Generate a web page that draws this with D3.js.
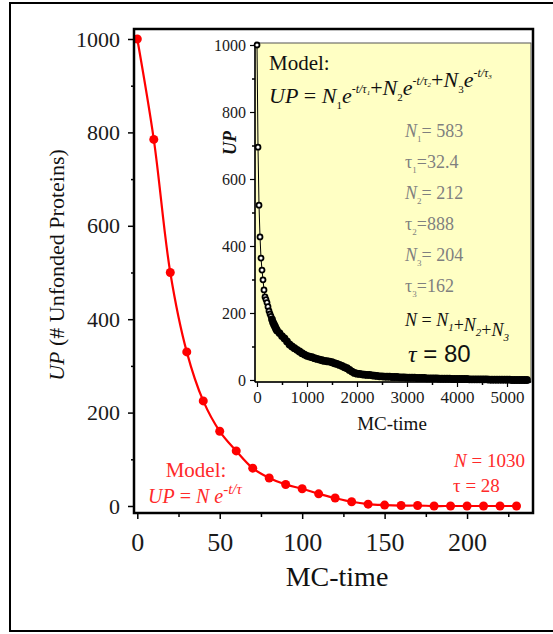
<!DOCTYPE html>
<html>
<head>
<meta charset="utf-8">
<title>Unfolded proteins vs MC-time</title>
<script src="https://d3js.org/d3.v7.min.js"></script>
<style>
  body { margin: 0; background: #fff; }
  svg text { font-family: "Liberation Serif", "Times New Roman", serif; }
</style>
</head>
<body>
<svg id="chart" width="553" height="634"></svg>
<script>
// main panel: red data, sampled every 10 MC steps
var mainTimes = d3.range(0, 240, 10);
var mainUP = [1000, 785, 500, 330, 225, 160, 118, 81, 60, 46, 37, 26,
              17, 9, 4, 2, 1, 1, 0, 0, 0, 0, 0, 0];
var mainXTicks = [0, 50, 100, 150, 200];
var mainXMinor = [25, 75, 125, 175, 225];
var mainYTicks = [0, 200, 400, 600, 800, 1000];
var mainYMinor = [100, 300, 500, 700, 900];

// inset: long run (every 20 steps first, then every 50)
var insetTimes = d3.range(0, 420, 20).concat(d3.range(450, 5450, 50));
var insetUP = [1000, 695, 522, 427, 364, 328, 299, 269, 248, 240, 231, 219, 206, 197, 190, 181, 172, 166, 160, 153, 148,
  140, 131, 124, 115, 106, 100, 95, 90, 85, 80,
  76, 72, 70, 68, 65, 63, 61, 59, 57, 56,
  55, 53, 50, 48, 45, 42, 38, 35, 30, 25,
  21, 19, 18, 17, 16, 15, 15, 14, 13, 12,
  11, 11, 10, 10, 10, 9, 9, 9, 8, 8,
  8, 7, 7, 7, 7, 6, 6, 6, 6, 5,
  5, 5, 5, 5, 4, 4, 4, 4, 4, 3,
  3, 3, 3, 3, 3, 3, 2, 2, 2, 2,
  2, 2, 2, 2, 1, 1, 1, 1, 1, 1,
  1, 1, 1, 0, 0, 0, 0, 0, 0, 0];
var insetXTicks = [0, 1000, 2000, 3000, 4000, 5000];
var insetXMinor = [500, 1500, 2500, 3500, 4500];
var insetYTicks = [0, 200, 400, 600, 800, 1000];
var insetYMinor = [100, 300, 500, 700, 900];

var fitParams = [["N", "1", "583"], ["τ", "1", "32.4"], ["N", "2", "212"],
                 ["τ", "2", "888"], ["N", "3", "204"], ["τ", "3", "162"]];

var RED = "#ff0000";
var svg = d3.select("#chart");
var fmt = d3.format("d");

// outer figure border
svg.append("rect").attr("x", 10).attr("y", 3).attr("width", 560).attr("height", 628)
  .attr("fill", "none").attr("stroke", "#000").attr("stroke-width", 2);

// ---------- main panel ----------
var x = d3.scaleLinear().domain([-2, 240]).range([134, 533]);
var y = d3.scaleLinear().domain([-15, 1021.4]).range([513, 29]);

function styleAxis(g, size) {
  g.select(".domain").remove();
  g.selectAll(".tick line").attr("stroke", "#000").attr("stroke-width", 1.5);
  g.selectAll(".tick text").attr("fill", "#1a1a1a").style("font-size", size + "px")
    .style("font-family", "Liberation Serif, serif");
}

var gx = svg.append("g").attr("transform", "translate(0,513)")
  .call(d3.axisBottom(x).tickValues(mainXTicks).tickFormat(fmt).tickSize(6).tickPadding(14));
styleAxis(gx, 26);
svg.append("g").attr("transform", "translate(0,513)")
  .call(d3.axisBottom(x).tickValues(mainXMinor).tickSize(4).tickFormat(""))
  .call(function (g) { styleAxis(g, 10); });

var gy = svg.append("g").attr("transform", "translate(134,0)")
  .call(d3.axisLeft(y).tickValues(mainYTicks).tickFormat(fmt).tickSize(6).tickPadding(8));
styleAxis(gy, 22);
svg.append("g").attr("transform", "translate(134,0)")
  .call(d3.axisLeft(y).tickValues(mainYMinor).tickSize(3).tickFormat(""))
  .call(function (g) { styleAxis(g, 10); });

svg.append("defs").append("clipPath").attr("id", "mainClip")
  .append("rect").attr("x", 134).attr("y", 29).attr("width", 399).attr("height", 484);

var mainPts = mainTimes.map(function (t, i) { return {t: t, v: mainUP[i]}; });
var redLine = d3.line().x(function (d) { return x(d.t); }).y(function (d) { return y(d.v); })
  .curve(d3.curveCatmullRom);
var plot = svg.append("g").attr("clip-path", "url(#mainClip)");
plot.append("path").datum(mainPts).attr("d", redLine)
  .attr("fill", "none").attr("stroke", RED).attr("stroke-width", 2.2);
plot.selectAll(".rdot").data(mainPts).enter().append("circle")
  .attr("class", "rdot").attr("cx", function (d) { return x(d.t); })
  .attr("cy", function (d) { return y(d.v); }).attr("r", 4.5).attr("fill", RED);

// axis titles
svg.append("text").attr("x", 337).attr("y", 586).attr("text-anchor", "middle")
  .style("font-size", "28px").attr("fill", "#111").text("MC-time");
var yl = svg.append("text").attr("transform", "translate(64,265) rotate(-90)")
  .attr("text-anchor", "middle").style("font-size", "22px").attr("fill", "#111");
yl.append("tspan").style("font-style", "italic").text("UP");
yl.append("tspan").text(" (# Unfonded Proteins)");

// red model annotations
svg.append("text").attr("x", 196).attr("y", 477).attr("text-anchor", "middle")
  .style("font-size", "21px").attr("fill", "#ff2a2a").text("Model:");
var rm = svg.append("text").attr("x", 148).attr("y", 503)
  .style("font-size", "20px").attr("fill", "#ff2a2a").style("font-style", "italic");
rm.append("tspan").text("UP");
rm.append("tspan").style("font-style", "normal").text(" = ");
rm.append("tspan").text("N e");
rm.append("tspan").attr("dy", -9).style("font-size", "15px").text("-t/τ");

var rn = svg.append("text").attr("x", 525).attr("y", 467).attr("text-anchor", "end")
  .style("font-size", "19px").attr("fill", "#ff2a2a");
rn.append("tspan").style("font-style", "italic").text("N");
rn.append("tspan").text(" = 1030");
svg.append("text").attr("x", 453).attr("y", 492)
  .style("font-size", "19px").attr("fill", "#ff2a2a").text("τ = 28");

// main frame
svg.append("rect").attr("x", 134).attr("y", 29).attr("width", 399).attr("height", 484)
  .attr("fill", "none").attr("stroke", "#000").attr("stroke-width", 2.5);

// ---------- inset ----------
var ix = d3.scaleLinear().domain([-40, 5480]).range([255, 531]);
var iy = d3.scaleLinear().domain([-6, 1006]).range([382, 43]);

svg.append("rect").attr("x", 255).attr("y", 43).attr("width", 276).attr("height", 339)
  .attr("fill", "#ffffc4").attr("stroke", "#555").attr("stroke-width", 1);

var igx = svg.append("g").attr("transform", "translate(0,382)")
  .call(d3.axisBottom(ix).tickValues(insetXTicks).tickFormat(fmt).tickSize(5).tickPadding(4));
styleAxis(igx, 17);
svg.append("g").attr("transform", "translate(0,382)")
  .call(d3.axisBottom(ix).tickValues(insetXMinor).tickSize(3).tickFormat(""))
  .call(function (g) { styleAxis(g, 10); });
var igy = svg.append("g").attr("transform", "translate(255,0)")
  .call(d3.axisLeft(iy).tickValues(insetYTicks).tickFormat(fmt).tickSize(5).tickPadding(4));
styleAxis(igy, 16);
svg.append("g").attr("transform", "translate(255,0)")
  .call(d3.axisLeft(iy).tickValues(insetYMinor).tickSize(3).tickFormat(""))
  .call(function (g) { styleAxis(g, 10); });
igx.selectAll(".tick line").attr("stroke-width", 1.2);
igy.selectAll(".tick line").attr("stroke-width", 1.2);

svg.append("line").attr("x1", 255).attr("x2", 255).attr("y1", 43).attr("y2", 382)
  .attr("stroke", "#000").attr("stroke-width", 1.5);
svg.append("line").attr("x1", 255).attr("x2", 531).attr("y1", 382).attr("y2", 382)
  .attr("stroke", "#000").attr("stroke-width", 1.5);

var insetPts = insetTimes.map(function (t, i) { return {t: t, v: insetUP[i]}; });
svg.append("path").datum(insetPts)
  .attr("d", d3.line().x(function (d) { return ix(d.t); }).y(function (d) { return iy(d.v); }))
  .attr("fill", "none").attr("stroke", "#000").attr("stroke-width", 1);
// open circles; where they pile up densely they merge into a solid band
svg.selectAll(".idot").data(insetPts).enter().append("circle")
  .attr("class", "idot").attr("cx", function (d) { return ix(d.t); })
  .attr("cy", function (d) { return iy(d.v); })
  .attr("r", function (d) { return d.t < 300 ? 2.5 : 3; })
  .attr("fill", function (d) { return d.t < 300 ? "#fff" : "#000"; })
  .attr("stroke", "#000").attr("stroke-width", 1.8);

svg.append("text").attr("x", 392).attr("y", 430).attr("text-anchor", "middle")
  .style("font-size", "19px").attr("fill", "#111").text("MC-time");
svg.append("text").attr("transform", "translate(236,143) rotate(-90)")
  .attr("text-anchor", "middle").style("font-size", "18px").style("font-weight", "bold")
  .style("font-style", "italic").attr("fill", "#111").text("UP");

// inset model text
svg.append("text").attr("x", 269).attr("y", 70).style("font-size", "21px")
  .attr("fill", "#111").text("Model:");
var eq = svg.append("text").attr("x", 269).attr("y", 103).style("font-size", "22px")
  .attr("fill", "#111").style("font-style", "italic");
eq.append("tspan").text("UP");
eq.append("tspan").style("font-style", "normal").text(" = ");
["1", "2", "3"].forEach(function (k, i) {
  if (i > 0) eq.append("tspan").style("font-style", "normal").text("+");
  eq.append("tspan").text("N");
  eq.append("tspan").attr("dy", 6).style("font-size", "11px").style("font-style", "normal").text(k);
  eq.append("tspan").attr("dy", -6).text("e");
  eq.append("tspan").attr("dy", -10).style("font-size", "12px").text("-t/τ");
  eq.append("tspan").attr("dy", 2).style("font-size", "7px").text(k);
  eq.append("tspan").attr("dy", 8).text("");
});

fitParams.forEach(function (p, i) {
  var t = svg.append("text").attr("x", 405).attr("y", 137 + i * 31)
    .style("font-size", "18px").attr("fill", "#7f7f7f");
  t.append("tspan").style("font-style", p[0] === "N" ? "italic" : "normal").text(p[0]);
  t.append("tspan").attr("dy", 5).style("font-size", "9px").text(p[1]);
  t.append("tspan").attr("dy", -5).text(p[0] === "N" ? "= " + p[2] : "=" + p[2]);
});

var ns = svg.append("text").attr("x", 405).attr("y", 326).style("font-size", "18px")
  .attr("fill", "#111").style("font-style", "italic");
ns.append("tspan").text("N");
ns.append("tspan").style("font-style", "normal").text(" = ");
["1", "2", "3"].forEach(function (k, i) {
  if (i > 0) ns.append("tspan").style("font-style", "normal").text("+");
  ns.append("tspan").text("N");
  ns.append("tspan").attr("dy", 5).style("font-size", "11px").text(k);
  ns.append("tspan").attr("dy", -5).text("");
});

var tau = svg.append("text").attr("x", 408).attr("y", 362).style("font-size", "24px").attr("fill", "#111");
tau.append("tspan").style("font-style", "italic").text("τ");
tau.append("tspan").style("font-family", "Liberation Sans, Arial, sans-serif").text(" = 80");
</script>
</body>
</html>
